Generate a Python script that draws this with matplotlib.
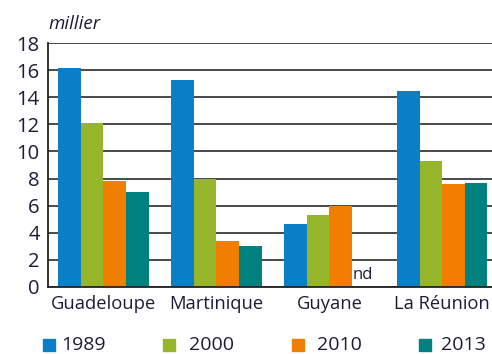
import matplotlib
matplotlib.use("Agg")
import matplotlib.pyplot as plt
from matplotlib.patches import Rectangle
import numpy as np

plt.rcParams['font.family'] = ['Open Sans', 'DejaVu Sans']

regions = ["Guadeloupe", "Martinique", "Guyane", "La Réunion"]
years = ["1989", "2000", "2010", "2013"]
v1989 = [16.2, 15.3, 4.6, 14.5]
v2000 = [12.1, 8.0, 5.3, 9.3]
v2010 = [7.8, 3.4, 6.0, 7.6]
v2013 = [7.0, 3.0, None, 7.7]   # Guyane 2013: nd
colors = ["#0A7FC8", "#95B62A", "#F07E00", "#00807E"]
text_color = "#1C1C3A"

W, H = 492, 354
fig = plt.figure(figsize=(W / 100, H / 100), dpi=100)
ax = fig.add_axes([48 / W, 1 - 286.7 / H, 1 - 48 / W, (286.7 - 43.3) / H])

x = np.arange(len(regions))
w = 0.2
series = [v1989, v2000, v2010, v2013]
for i, (vals, c) in enumerate(zip(series, colors)):
    pos = x + (i - 1.5) * w
    for p, v in zip(pos, vals):
        if v is None:
            ax.text(p, 0.3, "nd", ha="center", va="bottom", fontsize=12,
                    color=text_color)
        else:
            ax.bar(p, v, width=w, color=c, zorder=3)

ax.set_ylim(0, 18)
ax.set_xlim(-0.49, 3.44)
ax.set_yticks(range(0, 19, 2))
ax.set_xticks(x)
ax.set_xticklabels(regions)
ax.grid(axis="y", color="#3A3A3A", lw=1.3, zorder=1)
ax.tick_params(length=0, labelsize=14.5, colors=text_color, pad=6)
ax.tick_params(axis="x", labelsize=13.2, pad=6)
for s in ["top", "right"]:
    ax.spines[s].set_visible(False)
for s in ["left", "bottom"]:
    ax.spines[s].set_color("#222222")
    ax.spines[s].set_linewidth(1.3)
    ax.spines[s].set_zorder(4)

fig.text(48 / W, 1 - 24 / H, "millier", style="italic", fontsize=13.5,
         color=text_color, ha="left", va="center")

# legend row: colour squares with year labels
sq_left = [43, 163, 292, 419]
txt_left = [61, 189, 317, 441]
sq = 12
yc = 345
for c, lab, sl, tl in zip(colors, years, sq_left, txt_left):
    fig.patches.append(Rectangle((sl / W, 1 - (yc + sq / 2) / H), sq / W, sq / H,
                                 transform=fig.transFigure, color=c))
    fig.text(tl / W, 1 - yc / H, lab, fontsize=14, color=text_color,
             ha="left", va="center")

fig.savefig("out.png", dpi=100)
